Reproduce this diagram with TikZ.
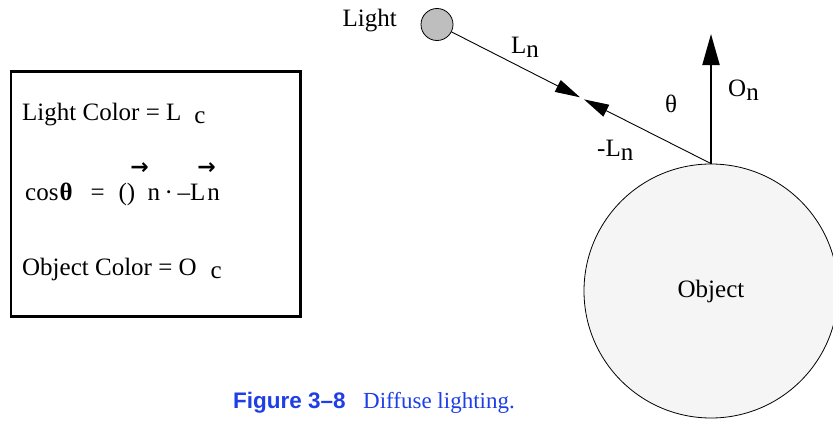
\documentclass[tikz,border=0pt]{standalone}
\usepackage{fontspec}
\setmainfont{Liberation Serif}
\newfontfamily\capsans{Liberation Sans}
\newfontfamily\arrowfont{DejaVu Sans}
\usetikzlibrary{arrows.meta, positioning}
\definecolor{lampgray}{HTML}{BEBEBE}
\definecolor{objgray}{HTML}{F5F5F5}
\definecolor{capblue}{HTML}{1E3FE6}
\newcommand{\lsub}[1]{\raisebox{-4pt}{#1}}
\newcommand{\vecbar}[1]{\makebox[0pt][l]{\kern#1\raisebox{26pt}{\arrowfont\bfseries\fontsize{22}{22}\selectfont →}}}

\begin{document}
\begin{tikzpicture}[x=1pt, y=-1pt,
  lbl/.style={inner sep=0pt, font=\fontsize{25}{29}\selectfont},
  ray/.style={line width=0.9pt, -{Triangle[length=25pt, width=13pt]}},
  ball/.style={draw, circle, inner sep=0pt, line width=0.8pt}
]
\useasboundingbox (0,0) rectangle (833,423);

% legend box
\node[draw, line width=2.7pt, minimum width=289.5pt, minimum height=245pt, anchor=north west, inner sep=0pt] (legend) at (9.5,70) {};
\node[lbl, anchor=base west] (lcol) at (22,120) {Light Color = L\hspace{13pt}\raisebox{-3pt}{c}};
\node[lbl, anchor=base west] (cosl) at (25,200) {cos\kern1pt\textbf{θ}\hspace{18pt}=\hspace{14pt}()\vecbar{-5pt}\hspace{12.3pt}n\hspace{4.5pt}·\hspace{4.75pt}–L\vecbar{-8pt}\kern2pt n};
\node[lbl, anchor=base west] (ocol) at (22,275) {Object Color = O\hspace{14pt}\raisebox{-3pt}{c}};

% light and object
\node[ball, fill=lampgray, minimum size=32pt] (light) at (437,24.5) {};
\node[ball, fill=objgray, minimum size=254pt, lbl] (obj) at (711,291) {Object};
\coordinate (meet1) at (580,97.3);
\coordinate (meet2) at (584,99.4);
\coordinate (ontip) at (711,34);

\draw[ray] (light) -- (meet1);
\draw[ray] (obj.north) -- (meet2);
\draw[line width=2pt, -{Triangle[length=31pt, width=17pt]}] (obj.north) -- (ontip);

% labels
\node[lbl, anchor=base east] (lightlbl) at (397,26) {Light};
\node[lbl, anchor=base west] (lnlbl) at (511,53) {L\lsub{n}};
\node[lbl] (thetalbl) at (671,104) {θ};
\node[lbl, anchor=base west] (neglbl) at (597,156) {-L\lsub{n}};
\node[lbl, anchor=base west] (onlbl) at (728,96) {O\lsub{n}};

% caption
\node[inner sep=0pt, anchor=base west, text=capblue, font=\capsans\bfseries\fontsize{22.5}{26}\selectfont] (fignum) at (233,408) {Figure 3–8};
\node[inner sep=0pt, anchor=base west, text=capblue, font=\fontsize{23}{27}\selectfont] (figtext) at (363,408) {Diffuse lighting.};
\end{tikzpicture}
\end{document}
